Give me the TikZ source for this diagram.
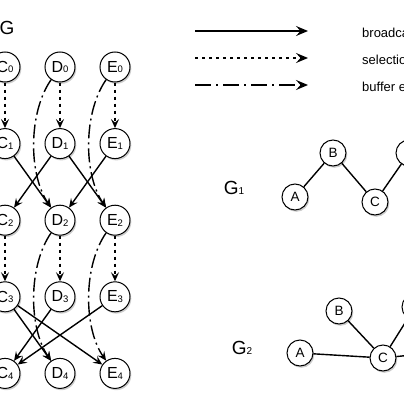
\documentclass[tikz,border=0pt]{standalone}
\usepackage{fontspec}
\setmainfont{Liberation Sans}
\usetikzlibrary{arrows.meta,shadows,positioning}
\newcommand{\idx}[3][9.5]{#2\raisebox{-0.6pt}{\fontsize{#1}{#1}\selectfont #3}}

\begin{document}
\begin{tikzpicture}[
  x=1pt, y=1pt,
  node distance=45.6pt and 24pt,
  state/.style={circle, draw, line width=1pt, fill=white, minimum size=30pt, inner sep=0pt, font=\fontsize{16}{16}\selectfont, drop shadow={opacity=0.4, shadow xshift=1.3pt, shadow yshift=-1.8pt}},
  peer/.style={state, minimum size=26pt, font=\fontsize{13.5}{13.5}\selectfont},
  title/.style={font=\fontsize{19}{19}\selectfont},
  legend/.style={anchor=west, inner sep=0pt, font=\fontsize{13}{13}\selectfont},
  bcast/.style={-{Stealth[length=9pt,width=8pt,inset=3.5pt]}, line width=1.4pt},
  select/.style={bcast, dash pattern=on 3pt off 4pt},
  buffer/.style={bcast, dash pattern=on 14pt off 4pt on 2pt off 4pt},
  bigtip/.style={-{Stealth[length=12pt,width=10pt,inset=4.5pt]}},
  link/.style={line width=1.4pt}
]
\useasboundingbox (0,0) rectangle (404,-404);
\clip (0,0) rectangle (404,-404);

% G: time-expanded graph
\node[title] (gtitle) at (7,-28) {G};
\node[state] (c0) at (5,-67) {\idx{C}{0}};
\node[state, right=of c0] (d0) {\idx{D}{0}};
\node[state, right=of d0] (e0) {\idx{E}{0}};
\node[state, below=of c0] (c1) {\idx{C}{1}};
\node[state, below=of d0] (d1) {\idx{D}{1}};
\node[state, below=of e0] (e1) {\idx{E}{1}};
\node[state, below=of c1] (c2) {\idx{C}{2}};
\node[state, below=of d1] (d2) {\idx{D}{2}};
\node[state, below=of e1] (e2) {\idx{E}{2}};
\node[state, below=of c2] (c3) {\idx{C}{3}};
\node[state, below=of d2] (d3) {\idx{D}{3}};
\node[state, below=of e2] (e3) {\idx{E}{3}};
\node[state, below=of c3] (c4) {\idx{C}{4}};
\node[state, below=of d3] (d4) {\idx{D}{4}};
\node[state, below=of e3] (e4) {\idx{E}{4}};

% selection (dotted)
\draw[select] (c0) -- (c1);
\draw[select] (d0) -- (d1);
\draw[select] (e0) -- (e1);
\draw[select] (c2) -- (c3);
\draw[select] (d2) -- (d3);
\draw[select] (e2) -- (e3);

% broadcast (solid)
\draw[bcast] (c1) -- (d2);
\draw[bcast] (d1) -- (c2);
\draw[bcast] (d1) -- (e2);
\draw[bcast] (e1) -- (d2);
\draw[bcast] (c3) -- (d4);
\draw[bcast] (c3) -- (e4);
\draw[bcast] (d3) -- (c4);
\draw[bcast] (e3) -- (c4);

% buffer exchange (dash-dot)
\draw[buffer] (d0) to[out=235, in=125, looseness=0.8] (d2);
\draw[buffer] (e0) to[out=235, in=125, looseness=0.8] (e2);
\draw[buffer] (d2) to[out=235, in=125, looseness=0.8] (d4);
\draw[buffer] (e2) to[out=235, in=125, looseness=0.8] (e4);

% Legend
\coordinate (bs) at (195,-31);
\coordinate (be) at (308,-31);
\coordinate (ss) at (195,-58);
\coordinate (se) at (308,-58);
\coordinate (xs) at (195,-85);
\coordinate (xe) at (308,-85);
\draw[bcast, bigtip] (bs) -- (be);
\draw[select, bigtip] (ss) -- (se);
\draw[buffer, bigtip, dash pattern=on 16pt off 5pt on 2pt off 5pt] (xs) -- (xe);
\node[legend] (lb) at (362,-33) {broadca};
\node[legend] (ls) at (362,-60) {selectio};
\node[legend] (lx) at (362,-87) {buffer e};

% G1
\node[title] (g1) at (234,-188) {\idx[10]{G}{1}};
\node[peer] (a1) at (295,-197) {A};
\node[peer] (b1) at (333,-153) {B};
\node[peer] (p1) at (375,-202) {C};
\node[peer] (q1) at (409,-153) {D};
\draw[link] (a1) -- (b1);
\draw[link] (b1) -- (p1);
\draw[link] (p1) -- (q1);

% G2
\node[title] (g2) at (242,-348) {\idx[10]{G}{2}};
\node[peer] (a2) at (300,-353) {A};
\node[peer] (b2) at (339,-311) {B};
\node[peer] (p2) at (383,-358) {C};
\node[peer] (q2) at (415,-307) {D};
\coordinate (r2) at (440,-352);
\draw[link] (a2) -- (p2);
\draw[link] (b2) -- (p2);
\draw[link] (p2) -- (q2);
\draw[link] (p2) -- (r2);

\end{tikzpicture}
\end{document}
